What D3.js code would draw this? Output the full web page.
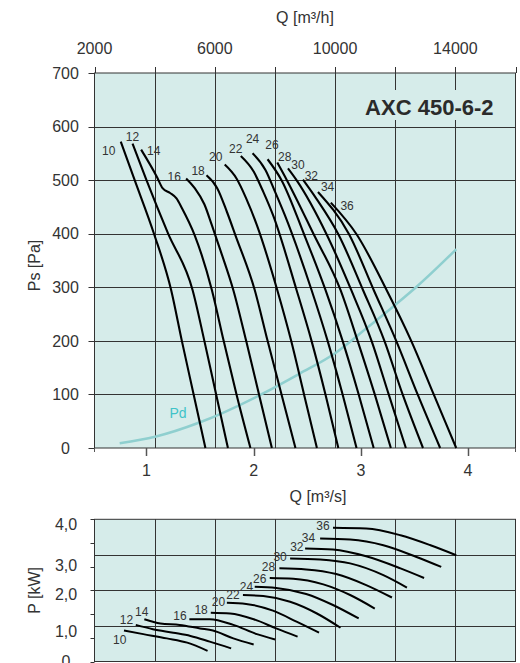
<!DOCTYPE html>
<html><head><meta charset="utf-8">
<script src="https://cdn.jsdelivr.net/npm/d3@7"></script>
<style>
body{margin:0;background:#fff}
svg{display:block;font-family:"Liberation Sans",Arial,Helvetica,sans-serif}
</style>
</head><body>
<svg id="chart" width="520" height="663"></svg>
<script>
// ---------- DATA ----------
const speeds = [10,12,14,16,18,20,22,24,26,28,30,32,34,36];

// Static pressure curves: [Q m3/s, Ps Pa]
const psCurves = [
  [[0.76,572],[0.89,500],[1.07,400],[1.23,295],[1.33,200],[1.44,100],[1.55,0]],
  [[0.87,568],[1.0,500],[1.2,401],[1.43,295],[1.54,200],[1.65,100],[1.76,0]],
  [[0.95,557],[1.1,505],[1.15,485],[1.22,476],[1.28,466],[1.33,448],[1.45,397],[1.61,295],[1.72,200],[1.84,100],[1.97,0]],
  [[1.37,503],[1.45,485],[1.54,455],[1.61,416],[1.69,369],[1.81,295],[1.93,200],[2.05,100],[2.17,0]],
  [[1.56,509],[1.66,485],[1.75,441],[1.83,397],[2.01,295],[2.13,200],[2.26,100],[2.39,0]],
  [[1.73,529],[1.84,503],[1.93,466],[2.03,416],[2.22,295],[2.35,200],[2.47,100],[2.59,0]],
  [[1.88,545],[2.0,516],[2.09,478],[2.18,435],[2.4,295],[2.54,200],[2.67,100],[2.79,0]],
  [[1.99,550],[2.11,519],[2.2,478],[2.29,435],[2.54,295],[2.69,200],[2.83,100],[2.96,0]],
  [[2.13,539],[2.26,500],[2.47,399],[2.67,295],[2.83,200],[2.98,100],[3.12,0]],
  [[2.22,533],[2.31,500],[2.56,399],[2.81,295],[2.97,200],[3.13,100],[3.28,0]],
  [[2.32,522],[2.4,500],[2.68,399],[2.91,295],[3.1,200],[3.26,100],[3.42,0]],
  [[2.46,501],[2.58,467],[2.79,399],[3.02,295],[3.22,200],[3.39,100],[3.58,0]],
  [[2.6,478],[2.89,399],[3.12,295],[3.33,200],[3.53,100],[3.74,0]],
  [[2.72,458],[2.96,399],[3.24,295],[3.47,200],[3.68,100],[3.89,0]]
];

// Dynamic pressure curve Pd: [Q m3/s, Pa]
const pdCurve = [[0.75,9],[1.08,21],[1.5,48],[2.07,100],[2.43,139],[2.76,177],[3.05,223],[3.32,267],[3.52,301],[3.89,371]];

// Power curves: [Q m3/s, P kW]
const pCurves = [
  [[0.79,0.87],[0.97,0.77],[1.19,0.65],[1.38,0.53],[1.57,0.3]],
  [[0.9,1.03],[1.06,0.91],[1.25,0.81],[1.41,0.72],[1.59,0.56],[1.79,0.37]],
  [[0.98,1.19],[1.13,1.07],[1.31,1.03],[1.5,0.93],[1.62,0.87],[1.81,0.65],[2.0,0.48]],
  [[1.4,1.19],[1.59,1.19],[1.81,1.03],[2.03,0.77],[2.2,0.62]],
  [[1.6,1.37],[1.78,1.35],[2.0,1.19],[2.21,0.93],[2.41,0.7]],
  [[1.75,1.65],[1.93,1.62],[2.18,1.43],[2.4,1.12],[2.61,0.81]],
  [[1.9,1.87],[2.09,1.84],[2.34,1.68],[2.59,1.35],[2.81,0.95]],
  [[2.01,2.1],[2.21,2.07],[2.49,1.9],[2.74,1.59],[2.98,1.21]],
  [[2.15,2.35],[2.37,2.33],[2.65,2.17],[2.9,1.87],[3.13,1.49]],
  [[2.24,2.62],[2.49,2.59],[2.77,2.46],[3.05,2.15],[3.29,1.8]],
  [[2.34,2.9],[2.62,2.87],[2.9,2.76],[3.21,2.43],[3.43,2.08]],
  [[2.48,3.18],[2.74,3.15],[3.05,2.96],[3.37,2.62],[3.59,2.35]],
  [[2.62,3.46],[2.9,3.43],[3.21,3.27],[3.52,2.94],[3.75,2.66]],
  [[2.74,3.76],[3.05,3.74],[3.37,3.55],[3.65,3.27],[3.89,2.99]]
];

// Axis ticks
const psTicks = [0,100,200,300,400,500,600,700];
const flowHTicks = [2000,4000,6000,8000,10000,12000,14000,16000];
const flowHLabels = [2000,6000,10000,14000];
const flowSTicks = [1,2,3,4];
const pGridValues = [1,2,3];
const pTickMarks = [0,0.67,1.33,2,2.67,3.33,4];
const pTickLabels = ["4,0","3,0","2,0","1,0","0"];
const pTickLabelAt = [3.87,2.72,1.88,0.86,0.02];

const title = "AXC 450-6-2";

// label nudges (px) relative to each curve's first point
const psLabelNudge = [[-12,9],[0,-7],[12.6,1.4],[-12,-1.6],[-8.4,-5],[-9,-7.6],[-5,-7.4],[0,-15],[4.4,-14.3],[7.4,-6],[10,-3.6],[8.4,-4.3],[9.6,-5],[16.3,3.4]];
const pLabelNudge = [[-4.3,9.3],[-9.3,-5.7],[-2.6,-7.3],[-9.3,-4],[-9.7,-2.7],[-8.4,-0.7],[-10,-0.7],[-8.3,0],[-10,0.6],[-11,-1.6],[-10,-1.6],[-8.3,-1.6],[-11.7,-1],[-10,-1.8]];

// ---------- LAYOUT ----------
const L=94.5, R=515.5, T1=73, B1=448, T2=519.3, B2=661.5;
const FILL="#d6ecea", GRID="#333", TXT="#333";

const svg = d3.select("#chart");
const xH = d3.scaleLinear().domain([2000,16000]).range([L,R]);
const xQ = d3.scaleLinear().domain([0.515,4.443]).range([L,R]);
const yPs = d3.scaleLinear().domain([0,700]).range([B1,T1]);
const yP = d3.scaleLinear().domain([0,4]).range([B2,T2]);
const px = v => Math.round(v)+0.5;

// ---------- TOP CHART ----------
const gTop = svg.append("g");
gTop.append("rect").attr("x",L).attr("y",T1).attr("width",R-L).attr("height",B1-T1).attr("fill",FILL);
gTop.selectAll("line.vg").data(flowHTicks.slice(1,-1)).join("line")
  .attr("x1",d=>px(xH(d))).attr("x2",d=>px(xH(d))).attr("y1",T1).attr("y2",B1)
  .attr("stroke",GRID).attr("stroke-width",1);
gTop.selectAll("line.hg").data(psTicks.slice(1,-1)).join("line")
  .attr("x1",L).attr("x2",R).attr("y1",d=>px(yPs(d))).attr("y2",d=>px(yPs(d)))
  .attr("stroke",GRID).attr("stroke-width",1);

// title with background patch
const titleBg = gTop.append("rect").attr("fill",FILL);
const tt = gTop.append("text").attr("x",R-22).attr("y",115).attr("text-anchor","end")
  .attr("font-size",22).attr("font-weight","bold").attr("fill","#2b2b2b").text(title);
const bb = tt.node().getBBox();
titleBg.attr("x",bb.x-6).attr("y",bb.y-5).attr("width",bb.width+12).attr("height",bb.height+5);

gTop.append("rect").attr("x",L).attr("y",T1).attr("width",R-L).attr("height",B1-T1)
  .attr("fill","none").attr("stroke",GRID).attr("stroke-width",1);

// top axis (m3/h)
gTop.selectAll("line.tt").data(flowHTicks).join("line")
  .attr("x1",d=>px(xH(d))).attr("x2",d=>px(xH(d))).attr("y1",T1-6).attr("y2",T1)
  .attr("stroke",GRID);
gTop.selectAll("text.tl").data(flowHLabels).join("text")
  .attr("x",d=>xH(d)).attr("y",54).attr("text-anchor","middle").attr("font-size",16).attr("fill",TXT)
  .text(d=>d);
gTop.append("text").attr("x",xH(9000)).attr("y",23).attr("text-anchor","middle").attr("font-size",16).attr("fill",TXT).text("Q [m³/h]");

// left axis (Pa)
gTop.selectAll("line.lt").data(psTicks).join("line")
  .attr("x1",L-6).attr("x2",L).attr("y1",d=>px(yPs(d))).attr("y2",d=>px(yPs(d))).attr("stroke",GRID);
gTop.selectAll("text.ll").data(psTicks).join("text")
  .attr("x",65.5).attr("y",d=>yPs(d)).attr("dy","0.36em").attr("text-anchor","middle").attr("font-size",16).attr("fill",TXT)
  .text(d=>d);
gTop.append("text").attr("transform",`translate(40,${(T1+B1)/2+5}) rotate(-90)`).attr("text-anchor","middle")
  .attr("font-size",16).attr("fill",TXT).text("Ps [Pa]");

// bottom axis (m3/s)
gTop.selectAll("line.bt").data(flowSTicks).join("line")
  .attr("x1",d=>px(xQ(d))).attr("x2",d=>px(xQ(d))).attr("y1",B1).attr("y2",B1+8).attr("stroke","#555").attr("stroke-width",1.5);
gTop.selectAll("line.be").data([L,R]).join("line")
  .attr("x1",d=>d).attr("x2",d=>d).attr("y1",B1).attr("y2",B1+4).attr("stroke","#555");
gTop.selectAll("text.bl").data(flowSTicks).join("text")
  .attr("x",d=>xQ(d)).attr("y",476).attr("text-anchor","middle").attr("font-size",16).attr("fill",TXT).text(d=>d);
gTop.append("text").attr("x",xQ(2.6)).attr("y",502).attr("text-anchor","middle").attr("font-size",16).attr("fill",TXT).text("Q [m³/s]");

// Pd curve
const lineTop = d3.line().x(d=>xQ(d[0])).y(d=>yPs(d[1])).curve(d3.curveMonotoneX);
gTop.append("path").attr("d",lineTop(pdCurve)).attr("fill","none").attr("stroke","#8fcfcf").attr("stroke-width",2.5);
gTop.append("text").attr("x",xQ(pdCurve[2][0])-22).attr("y",yPs(pdCurve[2][1])-4).attr("text-anchor","middle")
  .attr("font-size",14).attr("fill","#3fc3c8").text("Pd");

// Ps curves
gTop.selectAll("path.ps").data(psCurves).join("path")
  .attr("d",d=>lineTop(d)).attr("fill","none").attr("stroke","#000").attr("stroke-width",2.1);
gTop.selectAll("text.psl").data(psCurves).join("text")
  .attr("x",(d,i)=>xQ(d[0][0])+psLabelNudge[i][0]).attr("y",(d,i)=>yPs(d[0][1])+psLabelNudge[i][1])
  .attr("dy","0.36em").attr("text-anchor","middle").attr("font-size",12).attr("fill",TXT)
  .text((d,i)=>speeds[i]);

// ---------- BOTTOM CHART ----------
const gBot = svg.append("g");
gBot.append("rect").attr("x",L).attr("y",T2).attr("width",R-L).attr("height",B2-T2).attr("fill",FILL);
gBot.selectAll("line.vg").data(flowHTicks.slice(1,-1)).join("line")
  .attr("x1",d=>px(xH(d))).attr("x2",d=>px(xH(d))).attr("y1",T2).attr("y2",B2)
  .attr("stroke",GRID).attr("stroke-width",1);
gBot.selectAll("line.hg").data(pGridValues).join("line")
  .attr("x1",L).attr("x2",R).attr("y1",d=>px(yP(d))).attr("y2",d=>px(yP(d)))
  .attr("stroke",GRID).attr("stroke-width",1);
gBot.append("rect").attr("x",L).attr("y",T2).attr("width",R-L).attr("height",B2-T2)
  .attr("fill","none").attr("stroke",GRID).attr("stroke-width",1);
gBot.selectAll("line.lt").data(pTickMarks).join("line")
  .attr("x1",L-4).attr("x2",L).attr("y1",d=>px(yP(d))).attr("y2",d=>px(yP(d))).attr("stroke",GRID);
gBot.selectAll("text.ll").data(pTickLabels).join("text")
  .attr("x",66).attr("y",(d,i)=>yP(pTickLabelAt[i])).attr("dy","0.36em").attr("text-anchor","middle")
  .attr("font-size",16).attr("fill",TXT).text(d=>d);
gBot.append("text").attr("transform",`translate(40,${yP(2)}) rotate(-90)`).attr("text-anchor","middle")
  .attr("font-size",16).attr("fill",TXT).text("P [kW]");

const lineBot = d3.line().x(d=>xQ(d[0])).y(d=>yP(d[1])).curve(d3.curveMonotoneX);
gBot.selectAll("path.p").data(pCurves).join("path")
  .attr("d",d=>lineBot(d)).attr("fill","none").attr("stroke","#000").attr("stroke-width",2);
gBot.selectAll("text.pl").data(pCurves).join("text")
  .attr("x",(d,i)=>xQ(d[0][0])+pLabelNudge[i][0]).attr("y",(d,i)=>yP(d[0][1])+pLabelNudge[i][1])
  .attr("dy","0.36em").attr("text-anchor","middle").attr("font-size",12).attr("fill",TXT)
  .text((d,i)=>speeds[i]);
</script>
</body></html>
